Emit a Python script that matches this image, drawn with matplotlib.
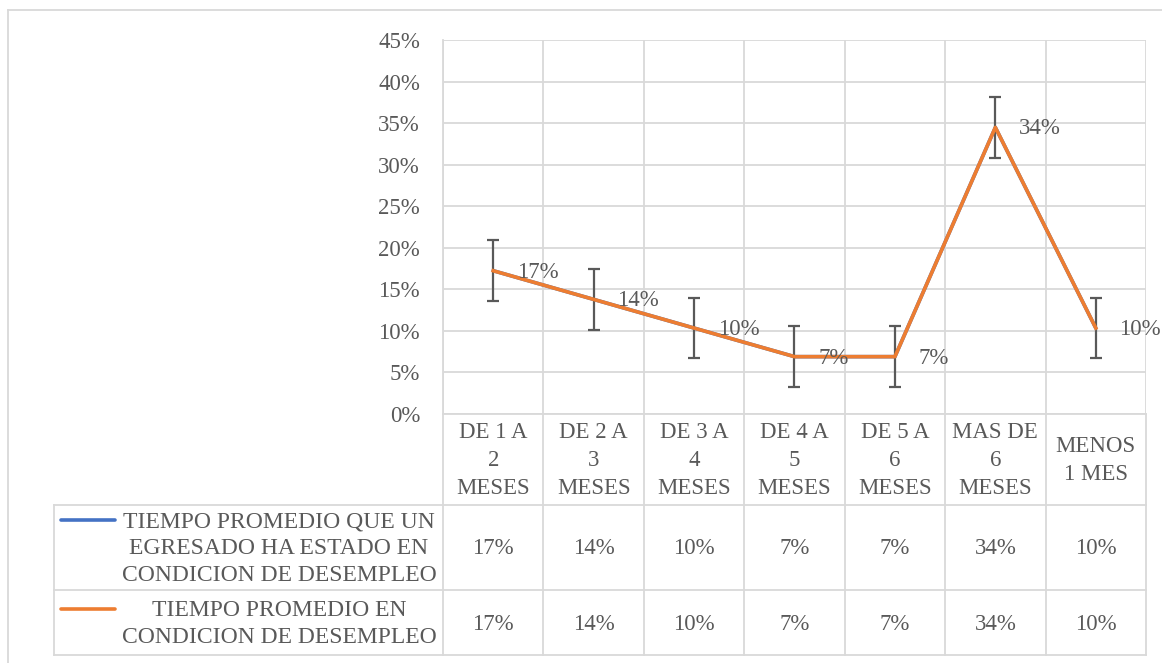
import matplotlib
matplotlib.use("Agg")
import matplotlib.pyplot as plt
from matplotlib.lines import Line2D
from matplotlib.transforms import blended_transform_factory
import numpy as np

categories = ["DE 1 A\n2\nMESES", "DE 2 A\n3\nMESES", "DE 3 A\n4\nMESES",
              "DE 4 A\n5\nMESES", "DE 5 A\n6\nMESES", "MAS DE\n6\nMESES",
              "MENOS\n1 MES"]
series_names = ["TIEMPO PROMEDIO QUE UN\nEGRESADO HA ESTADO EN\nCONDICION DE DESEMPLEO",
                "TIEMPO PROMEDIO EN\nCONDICION DE DESEMPLEO"]
serie_egresado = [0.1724, 0.1379, 0.1034, 0.0690, 0.0690, 0.3448, 0.1034]
serie_tiempo = [0.1724, 0.1379, 0.1034, 0.0690, 0.0690, 0.3448, 0.1034]
error_value = 0.0364
y_ticks = [0.0, 0.05, 0.10, 0.15, 0.20, 0.25, 0.30, 0.35, 0.40, 0.45]

W, H = 1162, 663
FONT = "Liberation Serif"
TXT = "#595959"
GRID = "#d9d9d9"
BLUE = "#4472c4"
ORANGE = "#ed7d31"
FS = 16.5
FS_LEG = 17
LS = 1.42

plt.rcParams['font.family'] = [FONT, 'DejaVu Serif']

fig = plt.figure(figsize=(W / 100, H / 100), dpi=100)
fig.patch.set_facecolor("white")

def fx(px):
    return px / W

def fy(py):
    return 1 - py / H

# plot area in pixels
L, R, T, B = 443, 1146, 40, 414
ax = fig.add_axes([fx(L), fy(B), fx(R) - fx(L), fy(T) - fy(B)])

n = len(categories)
x = np.arange(n)
ax.set_xlim(-0.5, n - 0.5)
ax.set_ylim(0, 0.45)
ax.set_yticks(y_ticks)
ax.set_yticklabels([f"{int(round(v * 100))}%" for v in y_ticks],
                   fontsize=FS, color=TXT, family=FONT)
ax.set_xticks(np.arange(-0.5, n, 1.0))
ax.set_xticklabels([])
ax.tick_params(axis='both', length=0)
ax.tick_params(axis='y', pad=16.5)
ax.grid(True, color=GRID, linewidth=1.3)
ax.set_axisbelow(True)
for s in ax.spines.values():
    s.set_visible(False)
ax.spines['left'].set_visible(True)
ax.spines['left'].set_color(GRID)
ax.spines['left'].set_linewidth(1.3)
ax.spines['bottom'].set_visible(True)
ax.spines['bottom'].set_color(GRID)
ax.spines['bottom'].set_linewidth(1.3)

# series
ax.plot(x, serie_egresado, color=BLUE, linewidth=2.6, solid_capstyle='round', zorder=3)
ax.errorbar(x, serie_tiempo, yerr=error_value, color=ORANGE, linewidth=2.6,
            ecolor=TXT, elinewidth=1.6, capsize=4, capthick=1.6, zorder=4)

for xi, v in zip(x, serie_tiempo):
    ax.annotate(f"{int(round(v * 100))}%", (xi, v), xytext=(17, -1),
                textcoords='offset points', ha='left', va='center',
                fontsize=FS, color=TXT, family=FONT, annotation_clip=False, zorder=5)

# data table
bt = blended_transform_factory(ax.transData, fig.transFigure)
ROW_HDR_B, ROW1_B, ROW2_B = 505, 590, 655
LEG_L = 54

for xb in np.arange(-0.5, n, 1.0):
    fig.add_artist(Line2D([xb, xb], [fy(B), fy(ROW2_B)], transform=bt,
                          color=GRID, linewidth=1.3))
for yb in [ROW_HDR_B, ROW1_B, ROW2_B]:
    fig.add_artist(Line2D([fx(LEG_L), fx(R)], [fy(yb), fy(yb)],
                          transform=fig.transFigure, color=GRID, linewidth=1.3))
fig.add_artist(Line2D([fx(LEG_L), fx(LEG_L)], [fy(ROW_HDR_B), fy(ROW2_B)],
                      transform=fig.transFigure, color=GRID, linewidth=1.3))

for xi, c in zip(x, categories):
    fig.text(xi, fy((B + ROW_HDR_B) / 2 + 1), c, transform=bt, ha='center', va='center',
             fontsize=FS, color=TXT, family=FONT, multialignment='center',
             linespacing=LS)

rows = [(serie_egresado, BLUE, ROW_HDR_B, ROW1_B),
        (serie_tiempo, ORANGE, ROW1_B, ROW2_B)]
for (vals, col, top, bot), name in zip(rows, series_names):
    cy = (top + bot) / 2 + 1.5
    nlines = name.count("\n") + 1
    line_h = 28
    first_line_y = cy - (nlines - 1) * line_h / 2 - 1
    fig.add_artist(Line2D([fx(61), fx(115)], [fy(first_line_y), fy(first_line_y)],
                          transform=fig.transFigure, color=col, linewidth=2.6,
                          solid_capstyle='round'))
    fig.text(fx(279), fy(cy), name, ha='center', va='center', fontsize=FS_LEG,
             color=TXT, family=FONT, multialignment='center', linespacing=1.36)
    for xi, v in zip(x, vals):
        fig.text(xi, fy(cy), f"{int(round(v * 100))}%", transform=bt,
                 ha='center', va='center', fontsize=FS, color=TXT, family=FONT)

fig.add_artist(Line2D([fx(8), fx(8)], [fy(10), 0], transform=fig.transFigure,
                      color=GRID, linewidth=1.3))
fig.add_artist(Line2D([fx(8), 1], [fy(10), fy(10)], transform=fig.transFigure,
                      color=GRID, linewidth=1.3))

fig.savefig("out.png", dpi=100, facecolor="white")
